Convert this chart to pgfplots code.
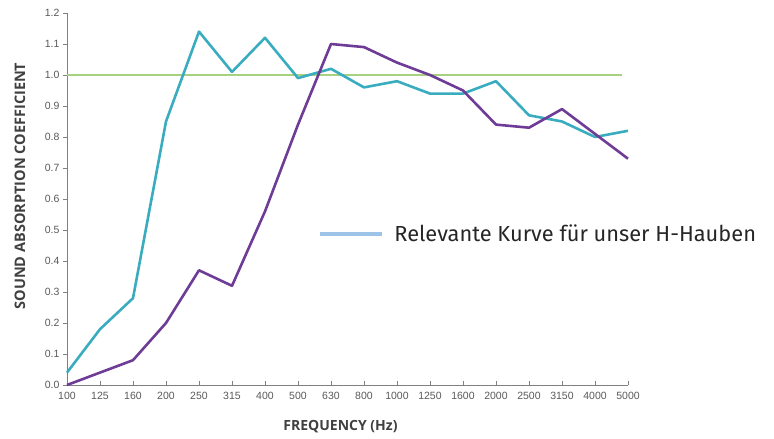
\documentclass[border=0pt]{standalone}
\usepackage{fontspec}
\setmainfont{Liberation Sans}
\newfontfamily\labfont{Open Sans}
\newfontfamily\legfont{Fira Sans}
\usepackage{pgfplots}
\pgfplotsset{compat=1.18}
\definecolor{teal1}{HTML}{3AACBF}
\definecolor{purp1}{HTML}{6E3C96}
\definecolor{green1}{HTML}{A6D27F}
\definecolor{legblue}{HTML}{9DC3E6}
\definecolor{axgray}{HTML}{808080}
\definecolor{tickgray}{HTML}{595959}
\definecolor{labgray}{HTML}{404040}
\definecolor{legtext}{HTML}{262626}
\begin{document}
\begin{tikzpicture}
\begin{axis}[
  at={(0pt,0pt)}, anchor=origin,
  scale only axis, width=561pt, height=372pt,
  xmin=0, xmax=17, ymin=0, ymax=1.2,
  axis x line*=bottom, axis y line*=left,
  axis line style={axgray, line width=0.8pt},
  xtick={0,...,17},
  xticklabels={100,125,160,200,250,315,400,500,630,800,1000,1250,1600,2000,2500,3150,4000,5000},
  ytick={0,0.1,...,1.21},
  yticklabel style={/pgf/number format/.cd, fixed, fixed zerofill, precision=1},
  /pgf/number format/assume math mode=true,
  tick label style={font=\fontsize{10.5}{12}\selectfont, text=tickgray},
  xticklabel style={yshift=-4pt},
  major tick length=4pt,
  x tick style={axgray, line width=0.6pt},
  y tick style={axgray, line width=0.6pt},
  xtick align=inside, ytick align=outside,
  xlabel={\labfont\bfseries FREQUENCY (Hz)},
  ylabel={\labfont\bfseries SOUND ABSORPTION COEFFICIENT},
  xlabel style={font=\fontsize{14}{16}\selectfont, text=labgray, at={(rel axis cs:0.5,0)}, anchor=center, yshift=-42pt, xshift=-7pt},
  ylabel style={font=\fontsize{14.5}{16}\selectfont, text=labgray, at={(rel axis cs:0,0.5)}, anchor=center, yshift=47pt, xshift=13pt},
  clip=false,
  legend style={at={(rel axis cs:0.447,0.406)}, anchor=west, draw=none, fill=none,
    font=\legfont\fontsize{21.8}{25}\selectfont, text=legtext, inner sep=0pt,
    legend cell align=left},
  legend image code/.code={\draw[#1] (0pt,0pt) -- (62pt,0pt);},
]
\addplot[green1, line width=1.6pt, forget plot] coordinates {(0,1.0) (16.82,1.0)};
\addplot[teal1, line width=2.6pt, line join=round, forget plot] coordinates {
(0,0.04) (1,0.18) (2,0.28) (3,0.85) (4,1.14) (5,1.01) (6,1.12) (7,0.99) (8,1.02)
(9,0.96) (10,0.98) (11,0.94) (12,0.94) (13,0.98) (14,0.87) (15,0.85) (16,0.80) (17,0.82)};
\addplot[purp1, line width=2.6pt, line join=round, forget plot] coordinates {
(0,0.0) (1,0.04) (2,0.08) (3,0.20) (4,0.37) (5,0.32) (6,0.56) (7,0.84) (8,1.10)
(9,1.09) (10,1.04) (11,1.00) (12,0.95) (13,0.84) (14,0.83) (15,0.89) (16,0.81) (17,0.73)};
\addlegendimage{legblue, line width=3.5pt}
\addlegendentry{\hspace{9pt}Relevante Kurve für unser H-Hauben}
\end{axis}
\useasboundingbox (-67pt,-54pt) rectangle (707pt,385pt);
\end{tikzpicture}
\end{document}
